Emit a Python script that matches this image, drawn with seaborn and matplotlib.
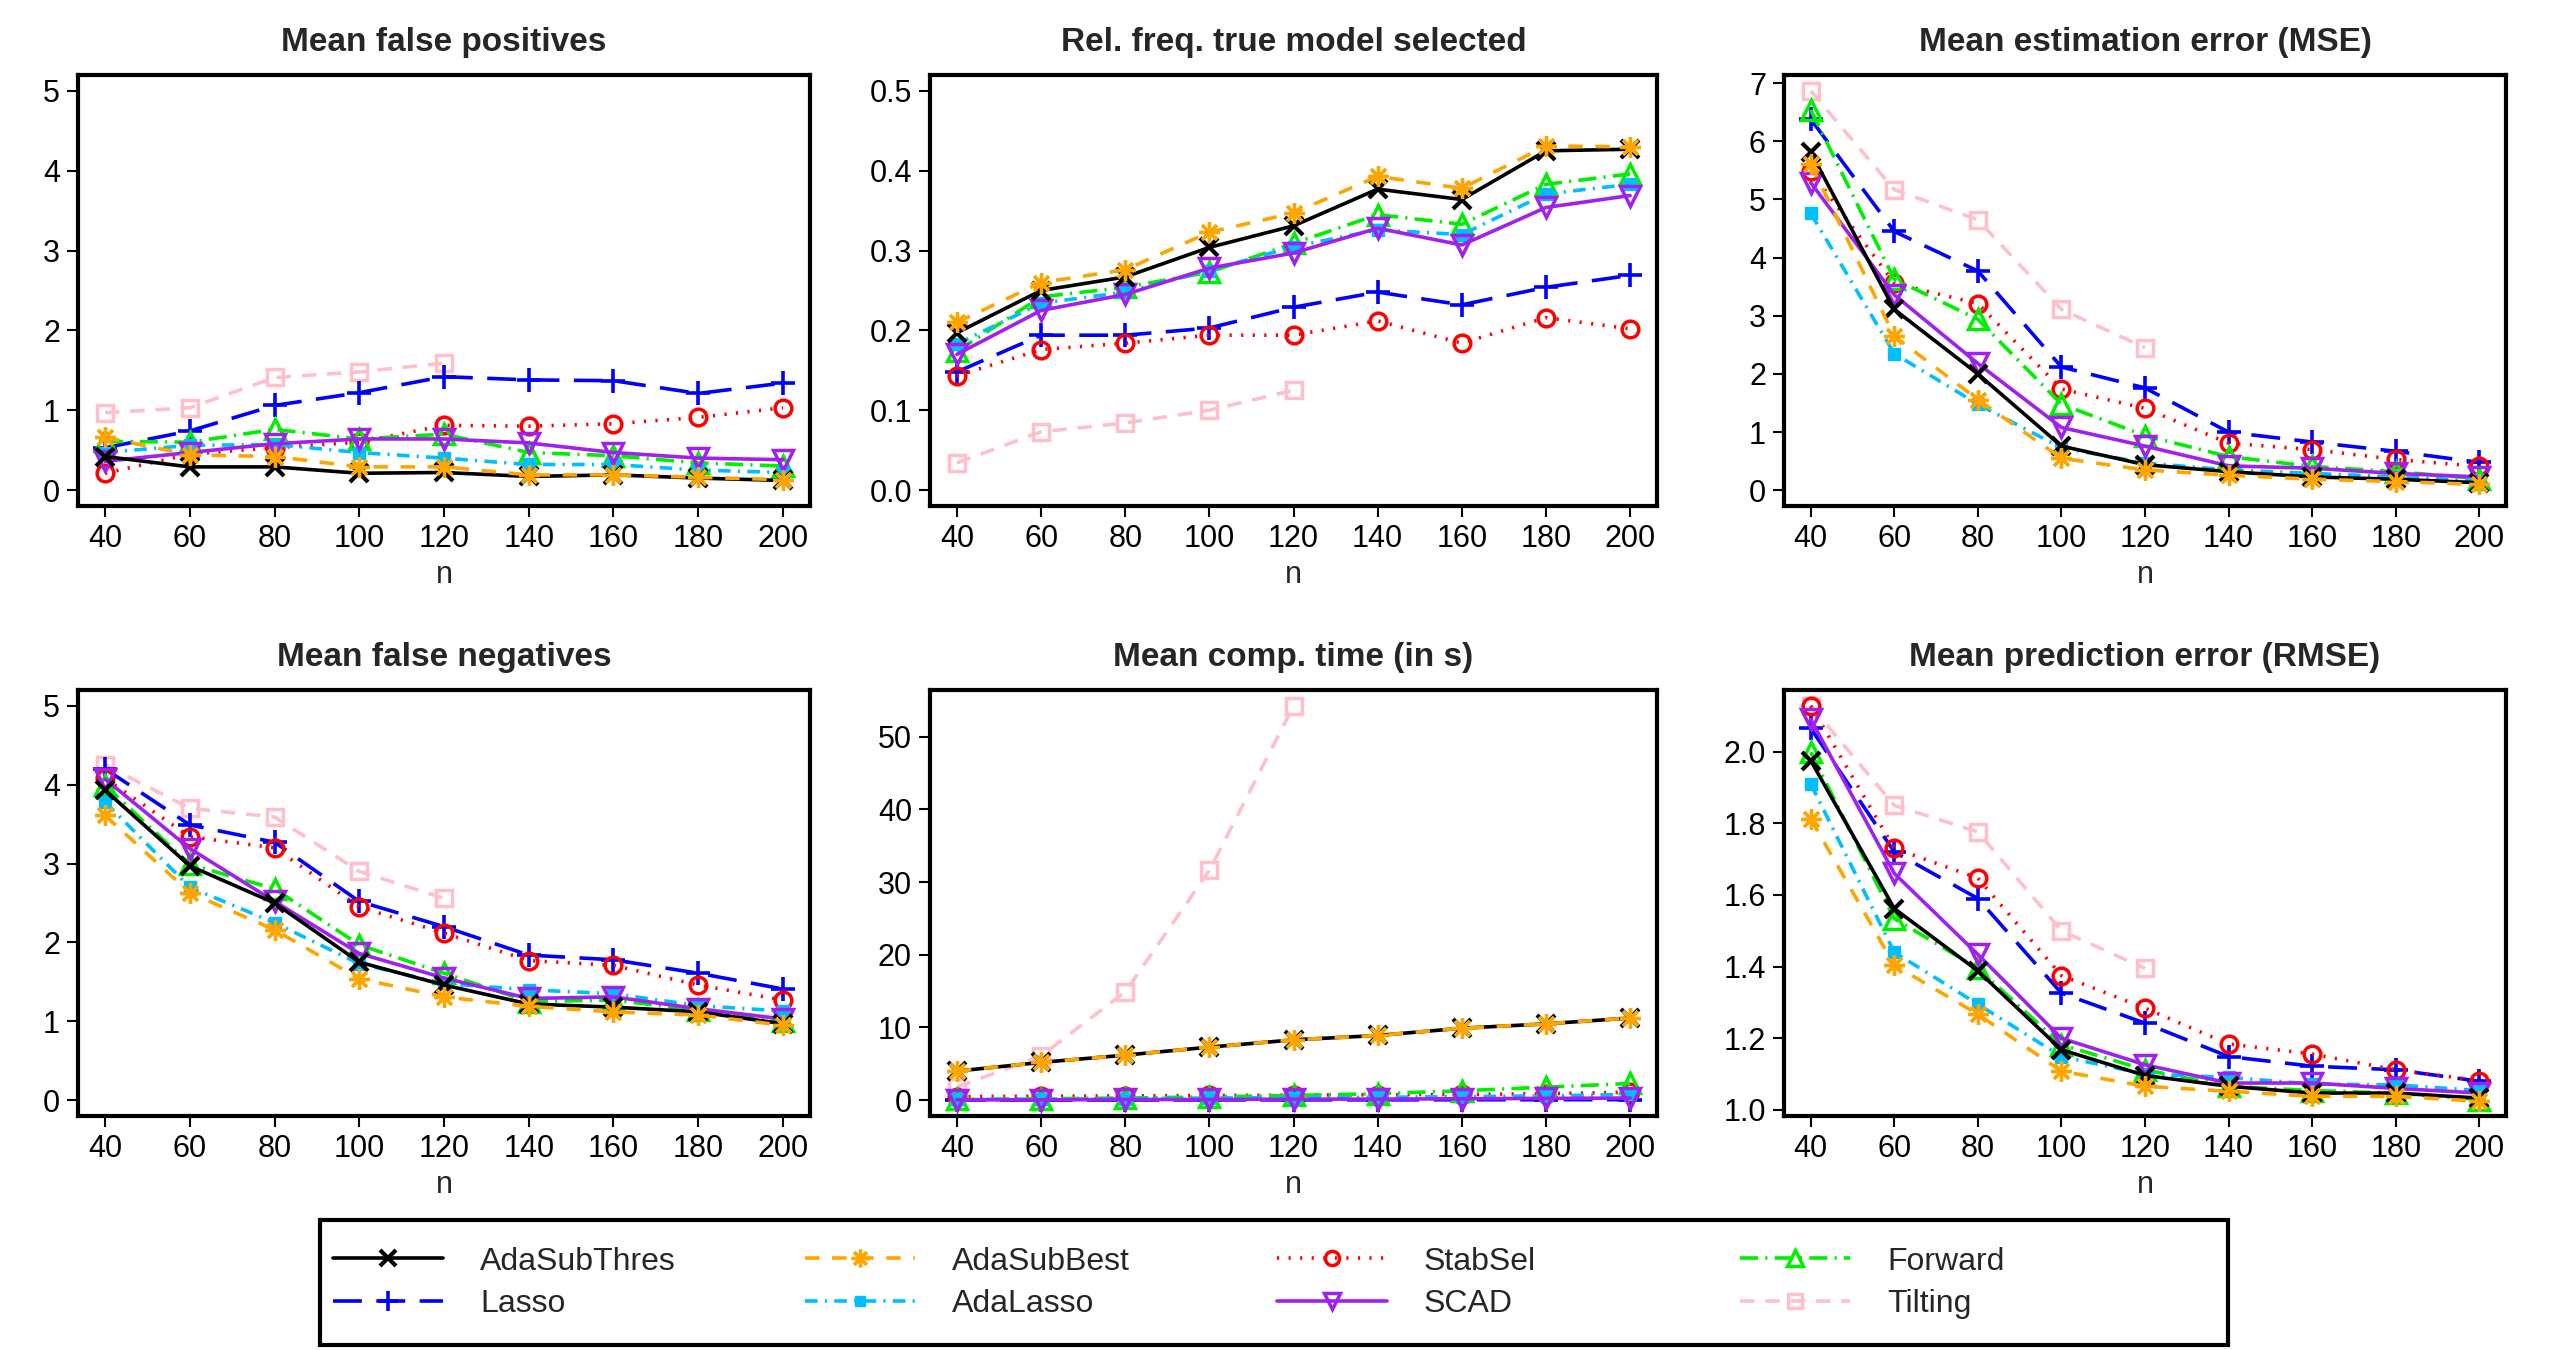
import numpy as np
import pandas as pd
import matplotlib
matplotlib.use("Agg")
import matplotlib.pyplot as plt
import seaborn as sns
from matplotlib.lines import Line2D
from matplotlib.patches import Rectangle

# ---------------- data ----------------
n_values = [40, 60, 80, 100, 120, 140, 160, 180, 200]
methods = ["AdaSubThres", "Lasso", "AdaSubBest", "AdaLasso", "StabSel", "SCAD", "Forward", "Tilting"]

panel_titles = ["Mean false positives", "Rel. freq. true model selected", "Mean estimation error (MSE)",
                "Mean false negatives", "Mean comp. time (in s)", "Mean prediction error (RMSE)"]

# Mean false positives
fp_adasubthres = [0.42, 0.29, 0.29, 0.21, 0.22, 0.17, 0.19, 0.15, 0.12]
fp_lasso       = [0.53, 0.74, 1.06, 1.22, 1.42, 1.38, 1.37, 1.21, 1.34]
fp_adasubbest  = [0.66, 0.44, 0.42, 0.29, 0.29, 0.19, 0.19, 0.16, 0.13]
fp_adalasso    = [0.47, 0.56, 0.57, 0.47, 0.40, 0.32, 0.32, 0.25, 0.22]
fp_stabsel     = [0.21, 0.45, 0.53, 0.60, 0.81, 0.80, 0.83, 0.91, 1.03]
fp_scad        = [0.36, 0.47, 0.58, 0.64, 0.64, 0.59, 0.47, 0.40, 0.38]
fp_forward     = [0.61, 0.60, 0.76, 0.64, 0.70, 0.47, 0.43, 0.34, 0.30]
fp_tilting     = [0.97, 1.03, 1.41, 1.48, 1.59]

# Relative frequency of true model selected
tm_adasubthres = [0.197, 0.250, 0.267, 0.304, 0.331, 0.377, 0.364, 0.425, 0.427]
tm_lasso       = [0.148, 0.194, 0.194, 0.203, 0.229, 0.248, 0.232, 0.254, 0.269]
tm_adasubbest  = [0.210, 0.260, 0.276, 0.323, 0.347, 0.393, 0.378, 0.431, 0.430]
tm_adalasso    = [0.183, 0.234, 0.248, 0.275, 0.305, 0.326, 0.320, 0.371, 0.383]
tm_stabsel     = [0.143, 0.176, 0.184, 0.194, 0.194, 0.212, 0.184, 0.216, 0.202]
tm_scad        = [0.170, 0.225, 0.245, 0.278, 0.297, 0.328, 0.307, 0.354, 0.369]
tm_forward     = [0.174, 0.242, 0.254, 0.273, 0.309, 0.345, 0.333, 0.383, 0.396]
tm_tilting     = [0.034, 0.073, 0.084, 0.100, 0.125]

# Mean estimation error (MSE)
mse_adasubthres = [5.81, 3.11, 2.00, 0.76, 0.44, 0.32, 0.23, 0.19, 0.13]
mse_lasso       = [6.38, 4.45, 3.77, 2.12, 1.76, 1.00, 0.83, 0.67, 0.48]
mse_adasubbest  = [5.61, 2.65, 1.56, 0.55, 0.35, 0.26, 0.19, 0.15, 0.10]
mse_adalasso    = [4.76, 2.35, 1.48, 0.73, 0.47, 0.35, 0.29, 0.23, 0.17]
mse_stabsel     = [5.49, 3.56, 3.21, 1.74, 1.41, 0.81, 0.70, 0.53, 0.41]
mse_scad        = [5.29, 3.36, 2.18, 1.08, 0.76, 0.42, 0.38, 0.29, 0.23]
mse_forward     = [6.54, 3.63, 2.94, 1.48, 0.94, 0.58, 0.41, 0.32, 0.20]
mse_tilting     = [6.87, 5.17, 4.65, 3.11, 2.45]

# Mean false negatives
fn_adasubthres = [3.93, 2.97, 2.50, 1.75, 1.46, 1.22, 1.18, 1.12, 0.97]
fn_lasso       = [4.20, 3.49, 3.27, 2.52, 2.20, 1.84, 1.78, 1.61, 1.41]
fn_adasubbest  = [3.61, 2.63, 2.16, 1.54, 1.31, 1.19, 1.12, 1.08, 0.95]
fn_adalasso    = [3.78, 2.70, 2.25, 1.73, 1.48, 1.40, 1.35, 1.20, 1.13]
fn_stabsel     = [4.08, 3.34, 3.20, 2.45, 2.12, 1.77, 1.71, 1.46, 1.27]
fn_scad        = [4.07, 3.19, 2.52, 1.86, 1.55, 1.29, 1.31, 1.16, 1.03]
fn_forward     = [3.99, 2.99, 2.68, 1.97, 1.61, 1.25, 1.27, 1.14, 1.01]
fn_tilting     = [4.25, 3.70, 3.59, 2.90, 2.56]

# Mean computation time (in s)
ct_adasubthres = [4.0, 5.2, 6.2, 7.3, 8.3, 8.9, 9.9, 10.5, 11.3]
ct_lasso       = [0.02, 0.02, 0.03, 0.04, 0.05, 0.05, 0.06, 0.07, 0.08]
ct_adasubbest  = [4.0, 5.2, 6.2, 7.3, 8.3, 8.9, 9.9, 10.5, 11.3]
ct_adalasso    = [0.1, 0.15, 0.2, 0.3, 0.35, 0.4, 0.5, 0.6, 0.8]
ct_stabsel     = [0.5, 0.55, 0.6, 0.65, 0.7, 0.75, 0.8, 0.9, 1.1]
ct_scad        = [0.05, 0.05, 0.1, 0.1, 0.15, 0.15, 0.2, 0.25, 0.3]
ct_forward     = [0.1, 0.2, 0.3, 0.45, 0.65, 0.9, 1.3, 1.8, 2.3]
ct_tilting     = [1.8, 6.1, 14.9, 31.6, 54.2]

# Mean prediction error (RMSE)
pe_adasubthres = [1.975, 1.562, 1.388, 1.168, 1.096, 1.066, 1.047, 1.047, 1.033]
pe_lasso       = [2.065, 1.720, 1.590, 1.326, 1.242, 1.149, 1.122, 1.112, 1.080]
pe_adasubbest  = [1.813, 1.404, 1.267, 1.108, 1.066, 1.052, 1.038, 1.038, 1.024]
pe_adalasso    = [1.910, 1.440, 1.295, 1.149, 1.100, 1.091, 1.072, 1.070, 1.054]
pe_stabsel     = [2.128, 1.730, 1.647, 1.375, 1.284, 1.184, 1.156, 1.112, 1.082]
pe_scad        = [2.090, 1.660, 1.434, 1.200, 1.126, 1.075, 1.075, 1.060, 1.047]
pe_forward     = [1.998, 1.534, 1.395, 1.182, 1.112, 1.066, 1.054, 1.047, 1.029]
pe_tilting     = [2.128, 1.850, 1.776, 1.500, 1.395]

y_ticks = [[0, 1, 2, 3, 4, 5], [0.0, 0.1, 0.2, 0.3, 0.4, 0.5], [0, 1, 2, 3, 4, 5, 6, 7],
           [0, 1, 2, 3, 4, 5], [0, 10, 20, 30, 40, 50], [1.0, 1.2, 1.4, 1.6, 1.8, 2.0]]
y_ticklabels = [["0", "1", "2", "3", "4", "5"], ["0.0", "0.1", "0.2", "0.3", "0.4", "0.5"],
                ["0", "1", "2", "3", "4", "5", "6", "7"], ["0", "1", "2", "3", "4", "5"],
                ["0", "10", "20", "30", "40", "50"], ["1.0", "1.2", "1.4", "1.6", "1.8", "2.0"]]

panels = [
    [fp_adasubthres, fp_lasso, fp_adasubbest, fp_adalasso, fp_stabsel, fp_scad, fp_forward, fp_tilting],
    [tm_adasubthres, tm_lasso, tm_adasubbest, tm_adalasso, tm_stabsel, tm_scad, tm_forward, tm_tilting],
    [mse_adasubthres, mse_lasso, mse_adasubbest, mse_adalasso, mse_stabsel, mse_scad, mse_forward, mse_tilting],
    [fn_adasubthres, fn_lasso, fn_adasubbest, fn_adalasso, fn_stabsel, fn_scad, fn_forward, fn_tilting],
    [ct_adasubthres, ct_lasso, ct_adasubbest, ct_adalasso, ct_stabsel, ct_scad, ct_forward, ct_tilting],
    [pe_adasubthres, pe_lasso, pe_adasubbest, pe_adalasso, pe_stabsel, pe_scad, pe_forward, pe_tilting],
]

# ---------------- styles ----------------
asterisk = (8, 2, 0)
styles = {
    "AdaSubThres": dict(color="#000000", marker="x", ls="-", ms=13, mfc="#000000", mew=3.0),
    "Lasso":       dict(color="#0000FF", marker="+", ls=(0, (8, 4)), ms=17, mfc="#0000FF", mew=2.6),
    "AdaSubBest":  dict(color="#FFA500", marker=asterisk, ls=(0, (4, 3.5)), ms=15, mfc="#FFA500", mew=2.4),
    "AdaLasso":    dict(color="#00BFFF", marker="s", ls=(0, (3.5, 2, 0.6, 2)), ms=8, mfc="#00BFFF", mew=1),
    "StabSel":     dict(color="#FF0000", marker="o", ls=(0, (0.6, 2.6)), ms=12, mfc="none", mew=2.5),
    "SCAD":        dict(color="#A020F0", marker="v", ls="-", ms=14, mfc="none", mew=2.5),
    "Forward":     dict(color="#00EE00", marker="^", ls=(0, (5, 2, 0.6, 2)), ms=14, mfc="none", mew=2.5),
    "Tilting":     dict(color="#FFC0CB", marker="s", ls=(0, (4, 3)), ms=12, mfc="none", mew=2.5),
}
draw_order = ["Tilting", "Lasso", "StabSel", "Forward", "AdaLasso", "SCAD", "AdaSubThres", "AdaSubBest"]

sns.set_theme(style="ticks")
plt.rcParams["font.family"] = ["Liberation Sans", "DejaVu Sans"]
plt.rcParams["axes.linewidth"] = 3.0

W, H = 2550, 1350
fig = plt.figure(figsize=(W / 100, H / 100), dpi=100)
fig.patch.set_facecolor("white")

col_left = [78, 930, 1784]
col_width = [732, 727, 722]
row_top = [75, 690]
row_height = [431, 426]

xlims = (33.6, 206.4)
ylims = [(-0.2, 5.2), (-0.02, 0.52), (-0.27, 7.14), (-0.2, 5.2), (-2.17, 56.4), (0.983, 2.172)]
LW = 2.6

for i in range(6):
    r, c = divmod(i, 3)
    left = col_left[c] / W
    bottom = 1 - (row_top[r] + row_height[r]) / H
    ax = fig.add_axes([left, bottom, col_width[c] / W, row_height[r] / H])
    data = panels[i]
    for m in draw_order:
        k = methods.index(m)
        vals = data[k]
        df = pd.DataFrame({"n": n_values[:len(vals)], "value": vals})
        st = styles[m]
        sns.lineplot(data=df, x="n", y="value", ax=ax, color=st["color"], linestyle=st["ls"],
                     linewidth=LW, marker=st["marker"], markersize=st["ms"],
                     markerfacecolor=st["mfc"], markeredgecolor=st["color"],
                     markeredgewidth=st["mew"], errorbar=None, legend=False)
    ax.set_xlim(*xlims)
    ax.set_ylim(*ylims[i])
    ax.set_xticks(n_values)
    ax.set_xticklabels([str(v) for v in n_values])
    ax.set_yticks(y_ticks[i])
    ax.set_yticklabels(y_ticklabels[i])
    ax.tick_params(axis="both", labelsize=22, length=8, width=1.5, direction="out", pad=5,
                   colors="black", left=True, bottom=True)
    ax.set_xlabel("n", fontsize=22, labelpad=4)
    ax.set_ylabel("")
    ax.set_title(panel_titles[i], fontsize=24, fontweight="bold", pad=17)
    for sp in ax.spines.values():
        sp.set_visible(True)
        sp.set_color("black")
        sp.set_linewidth(3.0)
    ax.set_facecolor("white")

# ---------------- legend ----------------
# frame
fig.add_artist(Rectangle((320 / W, 1 - 1345 / H), (2228 - 320) / W, 125 / H,
                         transform=fig.transFigure, facecolor="white", edgecolor="black",
                         linewidth=3.0, zorder=1))
legend_cols = [["AdaSubThres", "Lasso"], ["AdaSubBest", "AdaLasso"],
               ["StabSel", "SCAD"], ["Forward", "Tilting"]]
col_x = [333, 805, 1277, 1740]
LEG_FS = 23
for cx, names in zip(col_x, legend_cols):
    handles = []
    for m in names:
        st = styles[m]
        handles.append(Line2D([0], [0], color=st["color"], linestyle=st["ls"], linewidth=LW,
                              marker=st["marker"], markersize=st["ms"] * 0.85,
                              markerfacecolor=st["mfc"], markeredgecolor=st["color"],
                              markeredgewidth=st["mew"]))
    leg = fig.legend(handles, names, loc="center left",
                     bbox_to_anchor=(cx / W, 1 - 1283 / H),
                     fontsize=LEG_FS, handlelength=3.45, handletextpad=1.15,
                     frameon=False, borderaxespad=0, borderpad=0, labelspacing=0.4)
    leg.set_zorder(2)

fig.savefig("out.png", dpi=100, facecolor="white")
